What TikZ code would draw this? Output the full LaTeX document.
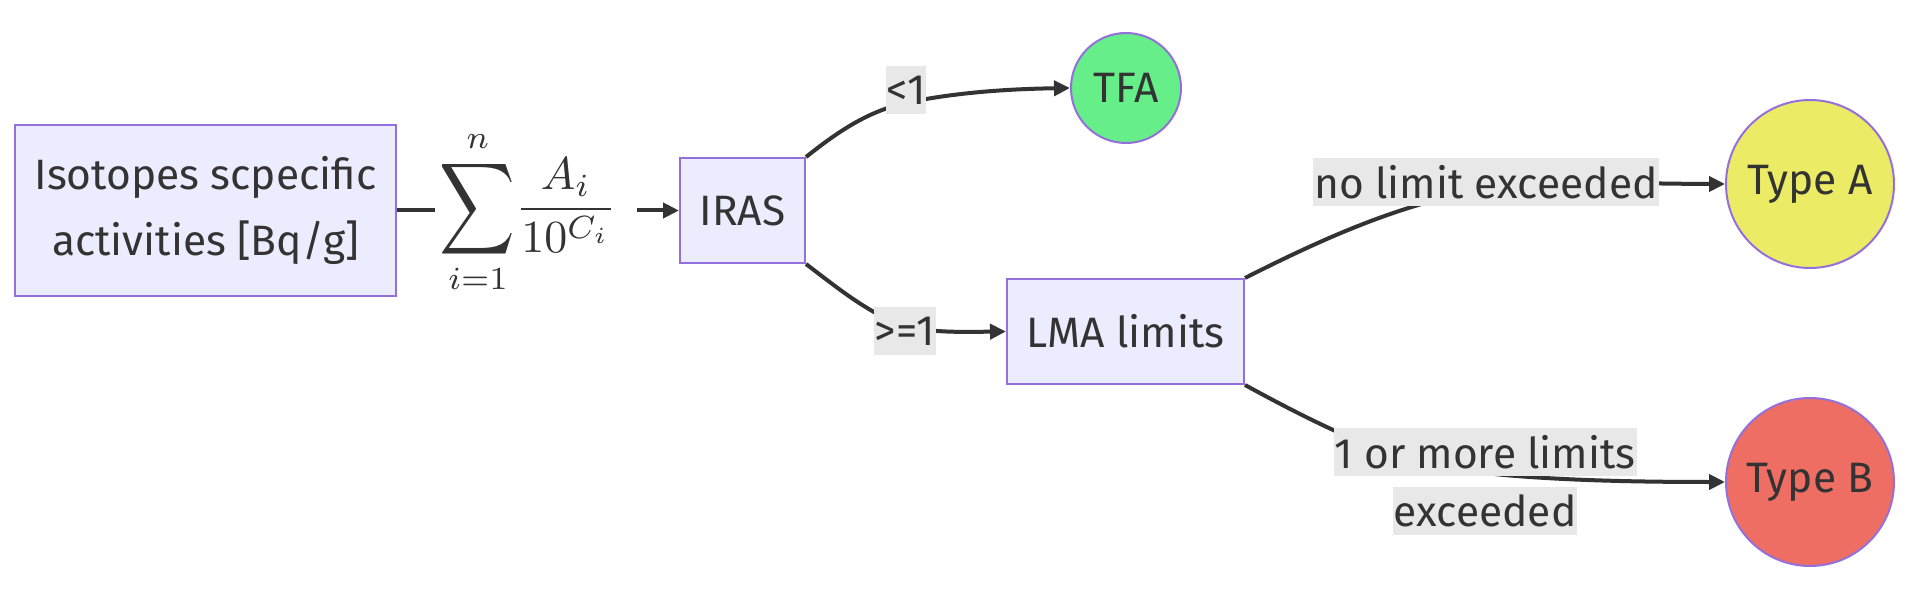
\documentclass[tikz,border=0pt]{standalone}
\usepackage{fontspec}
\setmainfont{Fira Sans}
\usepackage{graphicx}
\usetikzlibrary{arrows.meta}
\definecolor{boxfill}{HTML}{ECECFF}
\definecolor{boxline}{HTML}{9370DB}
\definecolor{edgec}{HTML}{333333}
\definecolor{lblbg}{HTML}{E8E8E8}
\definecolor{tfagreen}{HTML}{66EE88}
\definecolor{tayellow}{HTML}{EBEB66}
\definecolor{tbred}{HTML}{EE6E64}
\begin{document}
\begin{tikzpicture}[x=1pt,y=-1pt,
  every node/.style={text=edgec, font=\fontsize{42.5}{66}\selectfont},
  procbox/.style={draw=boxline, fill=boxfill, line width=2pt, inner sep=0pt},
  endcirc/.style={circle, draw=boxline, line width=2pt, inner sep=0pt, minimum size=#1},
  lbl/.style={fill=lblbg, inner xsep=1pt, inner ysep=0pt, minimum height=48pt},
  edgeline/.style={draw=edgec, line width=4pt},
  arr/.style={edgeline, -{Triangle[length=16pt,width=15pt]}}
]
\useasboundingbox (0,0) rectangle (1915,612);
\fill[white] (0,0) rectangle (1915,612);

\node[procbox, minimum width=381pt, minimum height=171pt, align=center] (src) at (205.5,210.5) {Isotopes scpecific\\activities [Bq/g]};
\node[inner xsep=5pt, inner ysep=0pt, font=\normalsize] (sumf) at (528,212)
  {\scalebox{4.6}{$\displaystyle \mathop{\vcenter{\hbox{\scalebox{1.14}[1.39]{$\displaystyle\sum$}}}}\limits_{i=1}^{n}\!\frac{A_i}{10^{C_i}}$}};
\node[procbox, minimum width=125pt, minimum height=105pt] (iras) at (742.5,210.5) {IRAS};
\node[endcirc=110pt, fill=tfagreen] (tfa) at (1126,88) {TFA};
\node[procbox, minimum width=237pt, minimum height=105pt] (lma) at (1125.5,331.5) {LMA limits};
\node[endcirc=168pt, fill=tayellow] (ta) at (1810,184) {Type A};
\node[endcirc=168pt, fill=tbred] (tb) at (1810,482) {Type B};

\draw[edgeline] (src.east) -- (src.east -| sumf.west);
\draw[arr, shorten <=16pt] (sumf.east |- iras.west) -- (iras.west);
\draw[arr] (iras.north east) .. controls (840,130) and (870,110) .. (910,102)
  .. controls (960,92) and (1010,89) .. (tfa.west);
\draw[arr] (iras.south east) .. controls (840,290) and (865,310) .. (900,325)
  .. controls (930,333) and (960,332) .. (lma.west);
\draw[arr] (lma.north east) .. controls (1330,235) and (1400,205) .. (1480,190)
  .. controls (1560,180) and (1660,184) .. (ta.west);
\draw[arr] (lma.south east) .. controls (1300,415) and (1340,435) .. (1400,458)
  .. controls (1460,475) and (1560,482) .. (tb.west);

\node[lbl] (l1) at (906,90) {<1};
\node[lbl] (l2) at (905,331) {>=1};
\node[lbl] (l3) at (1486,182) {no limit exceeded};
\node[lbl] (l4a) at (1485,452) {1 or more limits};
\node[lbl] (l4b) at (1485,511) {exceeded};
\end{tikzpicture}
\end{document}
